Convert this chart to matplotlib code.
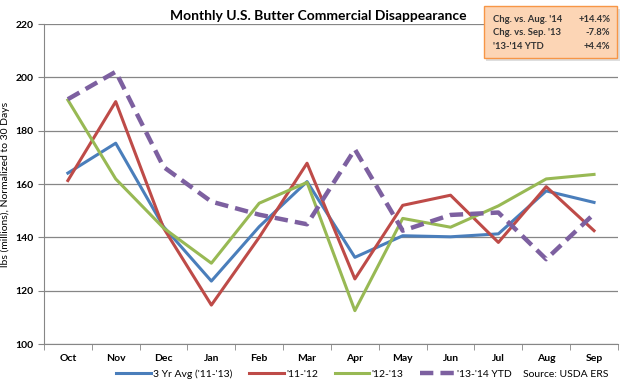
import numpy as np
import matplotlib.pyplot as plt
from matplotlib.patches import FancyBboxPatch

plt.rcParams['font.family'] = ['Lato', 'DejaVu Sans']

months = ["Oct", "Nov", "Dec", "Jan", "Feb", "Mar", "Apr", "May", "Jun", "Jul", "Aug", "Sep"]
avg_3yr = [164.1, 175.3, 144.0, 123.6, 144.0, 160.9, 132.5, 140.6, 140.2, 141.3, 157.4, 153.1]
y_11_12 = [161.3, 190.9, 143.5, 114.6, 140.0, 167.8, 124.4, 152.0, 155.8, 138.1, 159.0, 142.5]
y_12_13 = [191.5, 161.9, 143.5, 130.3, 152.8, 160.6, 112.5, 147.1, 143.8, 151.8, 161.9, 163.6]
y_13_14 = [191.8, 202.1, 166.4, 153.4, 148.5, 144.9, 173.0, 142.5, 148.4, 149.3, 131.8, 148.8]

box_lines = [("Chg. vs. Aug. '14", "+14.4%"), ("Chg. vs. Sep. '13", "-7.8%"), ("'13-'14 YTD", "+4.4%")]

fig = plt.figure(figsize=(6.28, 3.88), dpi=100)
ax = fig.add_axes([0.070, 0.1134, 0.914, 0.8247])

x = np.arange(len(months))
l1, = ax.plot(x, avg_3yr, color="#4a7ebb", lw=2.2, label="3 Yr Avg ('11-'13)")
l2, = ax.plot(x, y_11_12, color="#be4b48", lw=2.2, label="'11-'12")
l3, = ax.plot(x, y_12_13, color="#98b954", lw=2.2, label="'12-'13")
l4, = ax.plot(x, y_13_14, color="#7d60a0", lw=3.2, ls=(0, (3, 1.6)), label="'13-'14 YTD")

ax.set_xlim(-0.5, 11.5)
ax.set_ylim(100, 220)
ax.set_yticks(range(100, 221, 20))
ax.set_xticks(x)
ax.set_xticklabels(months)
ax.set_xticks(np.arange(-0.5, 12, 1), minor=True)
ax.tick_params(axis="x", which="major", length=0, labelsize=7.5, pad=7)
ax.tick_params(axis="x", which="minor", length=4, color="#868686", direction="out")
ax.tick_params(axis="y", length=4, color="#868686", labelsize=7.5)
for lab in ax.get_xticklabels() + ax.get_yticklabels():
    lab.set_fontweight("bold")
ax.grid(axis="y", color="#868686", lw=0.9)
ax.set_axisbelow(True)
for s in ["top", "right"]:
    ax.spines[s].set_visible(False)
for s in ["left", "bottom"]:
    ax.spines[s].set_color("#868686")
ax.set_ylabel("lbs (millions), Normalized to 30 Days", fontsize=7.5, labelpad=4)

fig.text(0.507, 0.958, "Monthly U.S. Butter Commercial Disappearance", ha="center", va="center",
         fontsize=10, fontweight="bold")

fig.legend(handles=[l1, l2, l3, l4], loc="center left", bbox_to_anchor=(0.185, 0.036), ncol=4,
           frameon=False, fontsize=7.5, handlelength=3.3, handletextpad=0.25, columnspacing=1.6,
           borderaxespad=0, borderpad=0)
fig.text(0.968, 0.036, "Source: USDA ERS", ha="right", va="center", fontsize=7.5)

# summary box
shadow = FancyBboxPatch((0.774, 0.843), 0.213, 0.133, boxstyle="square,pad=0", transform=fig.transFigure,
                        facecolor="#c8c8c8", edgecolor="none", alpha=0.6)
fig.patches.append(shadow)
box = FancyBboxPatch((0.770, 0.851), 0.213, 0.133, boxstyle="square,pad=0", transform=fig.transFigure,
                     facecolor="#fcd5b5", edgecolor="#f79646", lw=1.0)
fig.patches.append(box)
for i, (k, v) in enumerate(box_lines):
    yy = 0.951 - i * 0.035
    fig.text(0.785, yy, k, ha="left", va="center", fontsize=6.8, fontweight="bold", color="#333333")
    fig.text(0.972, yy, v, ha="right", va="center", fontsize=6.8, fontweight="bold", color="#333333")

fig.savefig("out.png", dpi=100)
